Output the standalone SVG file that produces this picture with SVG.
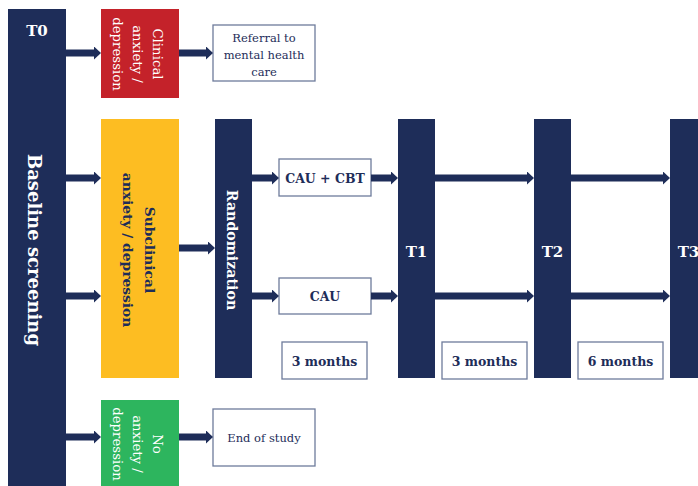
<svg xmlns="http://www.w3.org/2000/svg" width="698" height="486" viewBox="0 0 698 486">
<style>
.navy{fill:#1E2D59}
.box{fill:#FFFFFF;stroke:#6E7B9B;stroke-width:1.3}
.t{font-family:"DejaVu Serif","Liberation Serif",serif}
.wb{fill:#FFFFFF;font-weight:bold}
.nb{fill:#1E2D59;font-weight:bold}
.w{fill:#FFFFFF}
.n{fill:#1E2D59}
.arr{stroke:#1E2D59;stroke-width:7;fill:none;marker-end:url(#ah)}
</style>
<defs>
<marker id="ah" markerUnits="userSpaceOnUse" markerWidth="7" markerHeight="13" viewBox="0 0 7 13" refX="0" refY="6.5" orient="auto">
<path d="M0,0 L7,6.5 L0,13 Z" fill="#1E2D59"/>
</marker>
</defs>
<rect width="698" height="486" fill="#FFFFFF"/>
<g id="baseline">
<rect class="navy" x="8" y="9" width="58" height="480"/>
<text class="t wb" x="37" y="36" font-size="15" text-anchor="middle">T0</text>
<text class="t wb" font-size="18" text-anchor="middle" dominant-baseline="central" transform="translate(34,250) rotate(90)">Baseline screening</text>
</g>
<g id="clinical">
<rect x="101" y="9" width="78" height="89" fill="#C4222A"/>
<text class="t w" font-size="13.3" text-anchor="middle" dominant-baseline="central" transform="translate(138,54) rotate(90)"><tspan x="0" y="-20">Clinical</tspan><tspan x="0" y="0">anxiety /</tspan><tspan x="0" y="20">depression</tspan></text>
</g>
<g id="referral">
<rect class="box" x="213" y="25" width="102" height="56"/>
<text class="t n" font-size="11.5" text-anchor="middle"><tspan x="264" y="42">Referral to</tspan><tspan x="264" y="59">mental health</tspan><tspan x="264" y="76">care</tspan></text>
</g>
<g id="subclinical">
<rect x="101" y="119" width="78" height="259" fill="#FDBD22"/>
<text class="t nb" font-size="13.8" text-anchor="middle" dominant-baseline="central" transform="translate(139,250) rotate(90)"><tspan x="0" y="-11">Subclinical</tspan><tspan x="0" y="11">anxiety / depression</tspan></text>
</g>
<g id="randomization">
<rect class="navy" x="215" y="119" width="37" height="259"/>
<text class="t wb" font-size="14.2" text-anchor="middle" dominant-baseline="central" transform="translate(232,250) rotate(90)">Randomization</text>
</g>
<g id="cau-cbt">
<rect class="box" x="279" y="159" width="92" height="37"/>
<text class="t nb" x="325" y="182.5" font-size="12.5" text-anchor="middle">CAU + CBT</text>
</g>
<g id="cau">
<rect class="box" x="279" y="278" width="92" height="36"/>
<text class="t nb" x="325" y="301" font-size="12.5" text-anchor="middle">CAU</text>
</g>
<g id="months1">
<rect class="box" x="282" y="342" width="85" height="37"/>
<text class="t nb" x="324.5" y="366" font-size="12.5" text-anchor="middle">3 months</text>
</g>
<g id="t1">
<rect class="navy" x="398" y="119" width="37" height="259"/>
<text class="t wb" x="416.5" y="257" font-size="15" text-anchor="middle">T1</text>
</g>
<g id="months2">
<rect class="box" x="442" y="342" width="85" height="37"/>
<text class="t nb" x="484.5" y="366" font-size="12.5" text-anchor="middle">3 months</text>
</g>
<g id="t2">
<rect class="navy" x="534" y="119" width="37" height="259"/>
<text class="t wb" x="552.5" y="257" font-size="15" text-anchor="middle">T2</text>
</g>
<g id="months3">
<rect class="box" x="578" y="342" width="85" height="37"/>
<text class="t nb" x="620.5" y="366" font-size="12.5" text-anchor="middle">6 months</text>
</g>
<g id="t3">
<rect class="navy" x="670" y="119" width="37" height="259"/>
<text class="t wb" x="688.5" y="257" font-size="15" text-anchor="middle">T3</text>
</g>
<g id="no-anxiety">
<rect x="101" y="400" width="78" height="90" fill="#2DB55E"/>
<text class="t w" font-size="13.3" text-anchor="middle" dominant-baseline="central" transform="translate(138,444) rotate(90)"><tspan x="0" y="-20">No</tspan><tspan x="0" y="0">anxiety /</tspan><tspan x="0" y="20">depression</tspan></text>
</g>
<g id="end-of-study">
<rect class="box" x="213" y="409" width="102" height="57"/>
<text class="t n" x="264" y="441.5" font-size="11.5" text-anchor="middle">End of study</text>
</g>
<g id="connectors">
<line class="arr" x1="66" y1="53" x2="94" y2="53"/>
<line class="arr" x1="179" y1="53" x2="206" y2="53"/>
<line class="arr" x1="66" y1="178" x2="94" y2="178"/>
<line class="arr" x1="66" y1="296" x2="94" y2="296"/>
<line class="arr" x1="179" y1="248" x2="208" y2="248"/>
<line class="arr" x1="252" y1="178" x2="272" y2="178"/>
<line class="arr" x1="252" y1="296" x2="272" y2="296"/>
<line class="arr" x1="371" y1="178" x2="391" y2="178"/>
<line class="arr" x1="371" y1="296" x2="391" y2="296"/>
<line class="arr" x1="435" y1="178" x2="527" y2="178"/>
<line class="arr" x1="435" y1="296" x2="527" y2="296"/>
<line class="arr" x1="571" y1="178" x2="663" y2="178"/>
<line class="arr" x1="571" y1="296" x2="663" y2="296"/>
<line class="arr" x1="66" y1="437" x2="94" y2="437"/>
<line class="arr" x1="179" y1="437" x2="206" y2="437"/>
</g>
</svg>
